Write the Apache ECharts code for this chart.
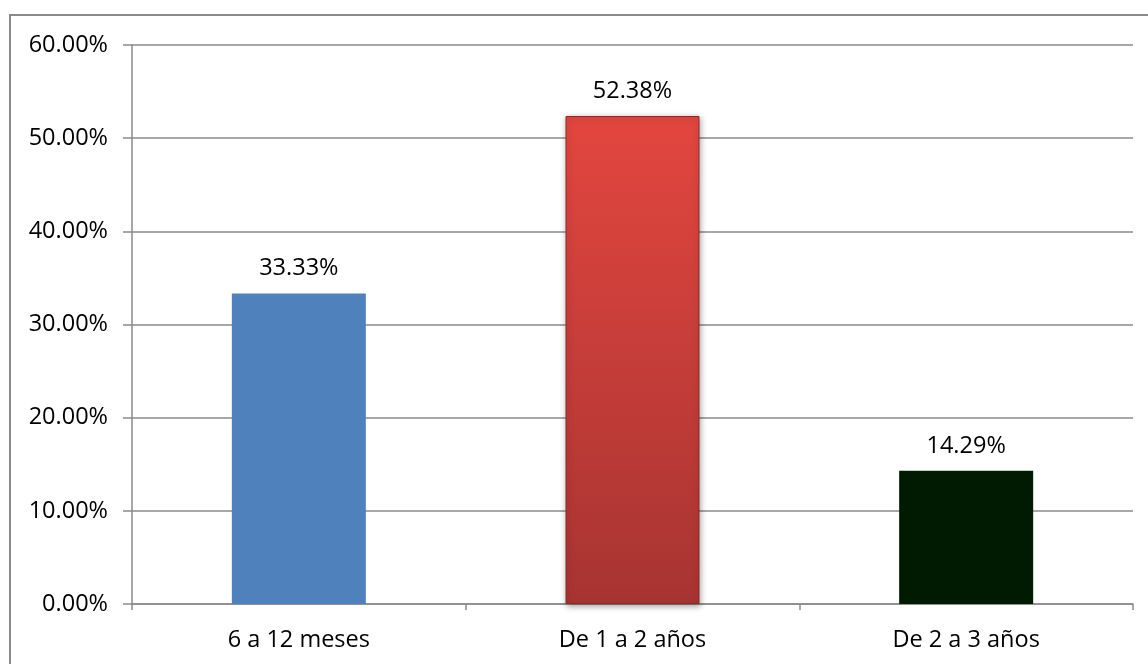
<!DOCTYPE html>
<html>
<head>
<meta charset="utf-8">
<script src="https://cdn.jsdelivr.net/npm/echarts@6/dist/echarts.min.js"></script>
<style>
  html, body { margin: 0; padding: 0; background: #ffffff; }
  #chart { width: 1148px; height: 664px; }
</style>
</head>
<body>
<div id="chart"></div>
<script>
// Time ranges and their share of respondents (%)
const categories = ['6 a 12 meses', 'De 1 a 2 años', 'De 2 a 3 años'];
const shares = [33.33, 52.38, 14.29];
const yTicks = { min: 0, max: 60, interval: 10 };

const FONT = '"Open Sans", "Liberation Sans", sans-serif';
const GRAY = '#8a8a8a';

const barStyles = [
  { color: '#4f81bd' },
  {
    color: {
      type: 'linear', x: 0, y: 0, x2: 0, y2: 1,
      colorStops: [
        { offset: 0, color: '#e3463f' },
        { offset: 1, color: '#a73432' }
      ]
    },
    borderColor: '#8e2a28',
    borderWidth: 1,
    shadowColor: 'rgba(0,0,0,0.35)',
    shadowBlur: 6,
    shadowOffsetX: 1,
    shadowOffsetY: 2
  },
  { color: '#011a02' }
];

const chart = echarts.init(document.getElementById('chart'));
chart.setOption({
  animation: false,
  backgroundColor: '#ffffff',
  graphic: [{
    type: 'rect',
    shape: { x: 10, y: 15, width: 1200, height: 720 },
    style: { fill: 'none', stroke: GRAY, lineWidth: 2 },
    z: -1
  }],
  grid: { left: 132, right: 15, top: 45, bottom: 60 },
  xAxis: {
    type: 'category',
    data: categories,
    axisLine: { lineStyle: { color: GRAY, width: 1.5 } },
    axisTick: { show: true, length: 6, lineStyle: { color: GRAY, width: 1.5 } },
    axisLabel: { color: '#000', fontFamily: FONT, fontSize: 23.5, margin: 24 }
  },
  yAxis: {
    type: 'value',
    min: yTicks.min,
    max: yTicks.max,
    interval: yTicks.interval,
    axisLine: { show: true, lineStyle: { color: GRAY, width: 1.5 } },
    axisTick: { show: true, length: 9, lineStyle: { color: GRAY, width: 1.5 } },
    splitLine: { lineStyle: { color: GRAY, width: 1.5 } },
    axisLabel: {
      color: '#000', fontFamily: FONT, fontSize: 23.5, margin: 24,
      formatter: v => v.toFixed(2) + '%'
    }
  },
  series: [{
    type: 'bar',
    barWidth: 134,
    data: shares.map((v, i) => ({ value: v, itemStyle: barStyles[i] })),
    label: {
      show: true,
      position: 'top',
      distance: 13,
      color: '#000',
      fontFamily: FONT,
      fontSize: 23.5,
      formatter: p => p.value.toFixed(2) + '%'
    }
  }]
});
</script>
</body>
</html>
